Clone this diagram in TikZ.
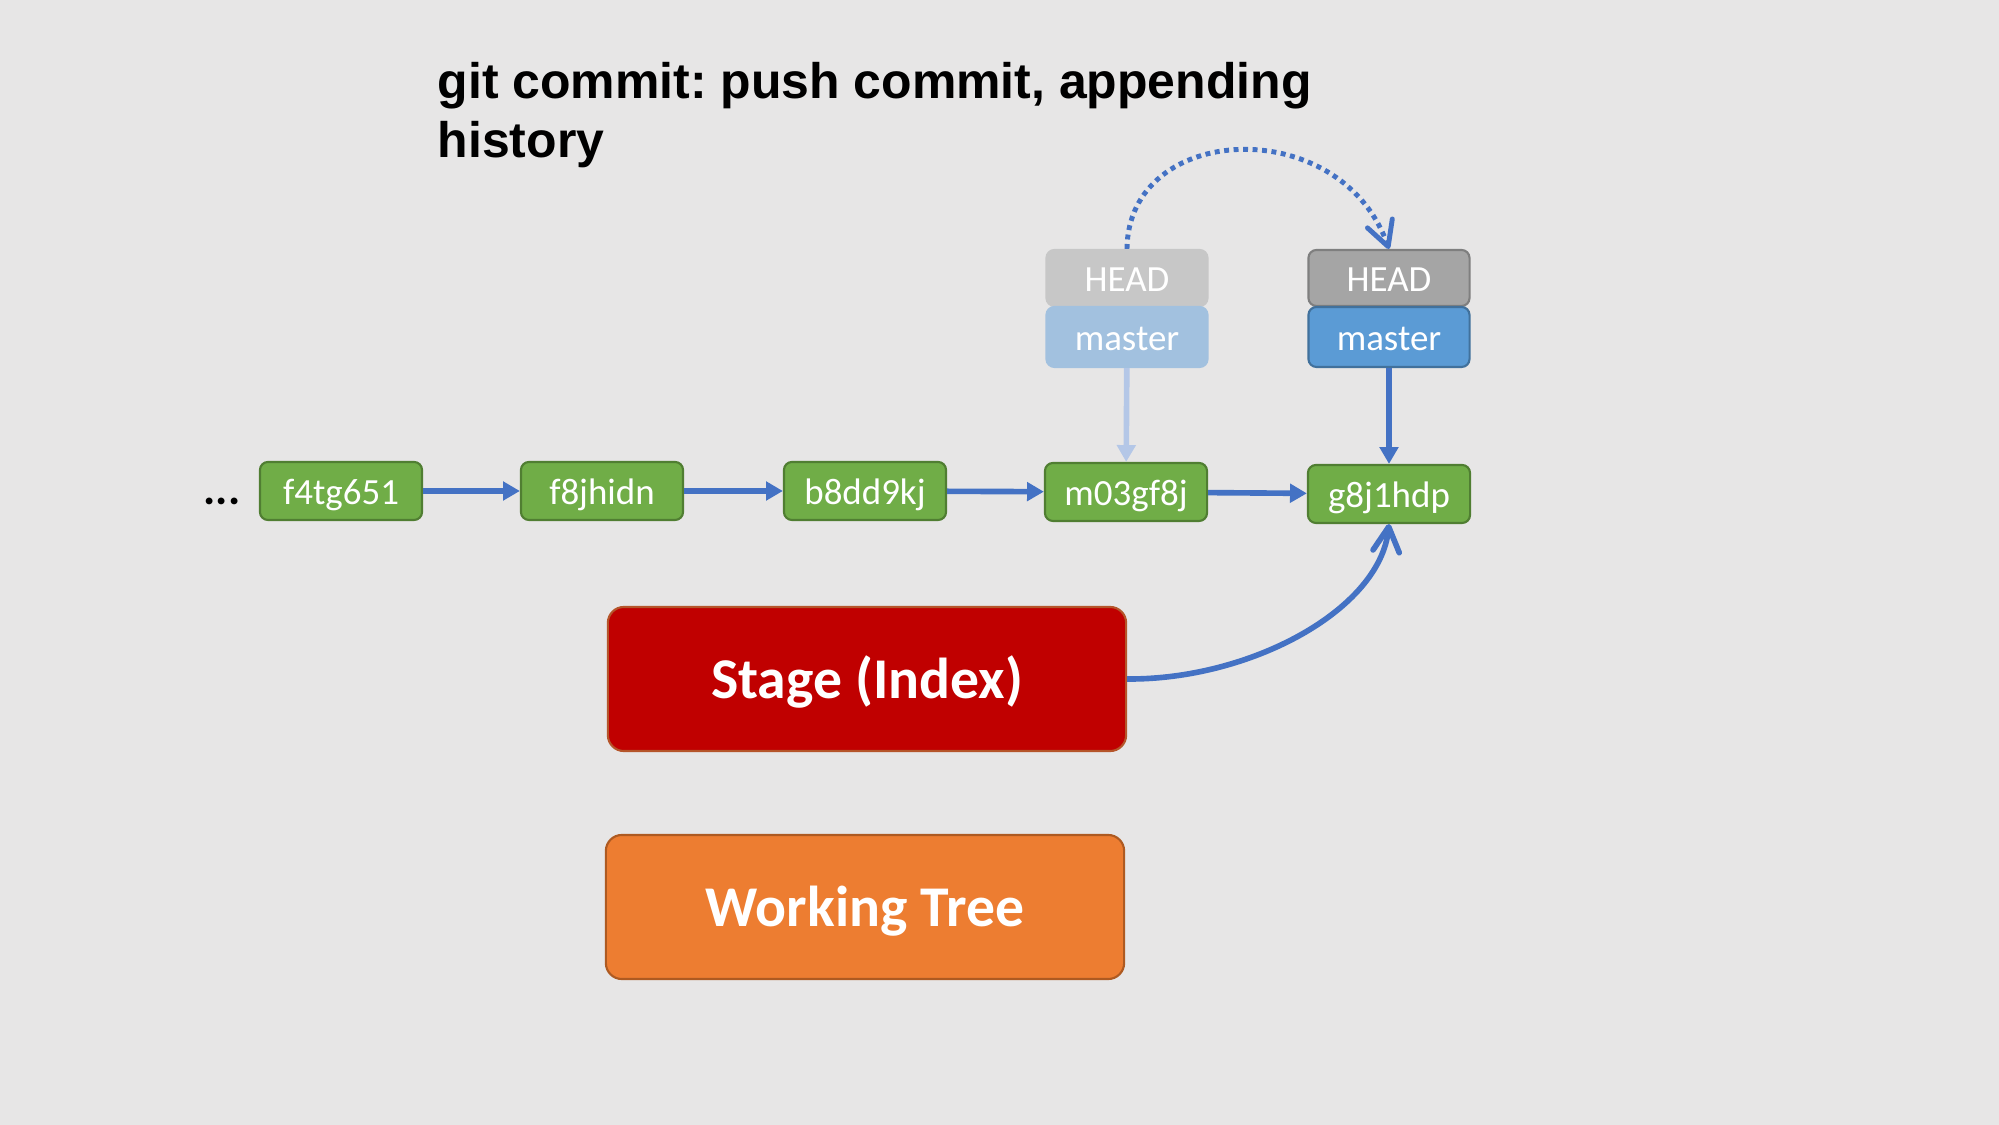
\documentclass[tikz,border=0pt]{standalone}
\usepackage{fontspec}
\setmainfont{Carlito}
\newfontfamily\titlefont{Liberation Sans}
\usetikzlibrary{arrows.meta}
\definecolor{bgcol}{HTML}{E7E6E6}
\definecolor{commitfill}{HTML}{70AD47}
\definecolor{commitline}{HTML}{507E32}
\definecolor{linkblue}{HTML}{4472C4}
\definecolor{linkpale}{HTML}{B4C7E7}
\definecolor{headold}{HTML}{C7C7C7}
\definecolor{masterold}{HTML}{A2C1DF}
\definecolor{headnew}{HTML}{A5A5A5}
\definecolor{headline}{HTML}{7F7F7F}
\definecolor{masternew}{HTML}{5B9BD5}
\definecolor{masterline}{HTML}{41719C}
\definecolor{stagefill}{HTML}{C00000}
\definecolor{stageline}{HTML}{B5552A}
\definecolor{treefill}{HTML}{ED7D31}
\definecolor{treeline}{HTML}{AE5A21}
\tikzset{
	commit/.style={draw=commitline, fill=commitfill, text=white, line width=0.6pt, rounded corners=0.08cm, minimum width=1.62cm, minimum height=0.58cm, inner sep=0pt, text height=8.5pt, text depth=1pt},
	ref/.style={text=white, line width=0.6pt, rounded corners=0.08cm, minimum width=1.61cm, inner sep=0pt, text height=8.5pt, text depth=1pt},
	area/.style={text=white, line width=0.6pt, rounded corners=0.16cm, minimum width=5.18cm, minimum height=1.44cm, inner sep=0pt, text height=13pt, text depth=2pt, font=\bfseries\fontsize{16.4}{19}\selectfont},
	link/.style={linkblue, line width=1.6pt},
	barb/.style={-{Straight Barb[length=7pt, width=7.5pt, line cap=round, line join=round]}}
}
\begin{document}
\begin{tikzpicture}[x=0.01cm, y=-0.01cm, font=\fontsize{10.5}{12}\selectfont, line join=round, >={Triangle[length=4.8pt, width=5.2pt]}]
	\def\yc{491} \def\yh{278} \def\ym{337}
	\fill[bgcol] (0,0) rectangle (1999,1125);
	\useasboundingbox (0,0) rectangle (1999,1125);
	\node[anchor=base west, align=left, inner sep=0pt, font=\titlefont\bfseries\frenchspacing\fontsize{14.2}{17}\selectfont] (title) at (437,158) {git commit: push commit, appending\\history};
	\node[anchor=base, inner sep=0pt, font=\bfseries\fontsize{13}{15}\selectfont] (dots) at (222,505) {...};
	% commits
	\node[commit] (c1) at (341,\yc) {f4tg651};
	\node[commit] (c2) at (602,\yc) {f8jhidn};
	\node[commit] (c3) at (865,\yc) {b8dd9kj};
	\node[commit] (c4) at (1126,492) {m03gf8j};
	\node[commit] (c5) at (1389,494) {g8j1hdp};
	\foreach \a/\b in {c1/c2, c2/c3, c3/c4, c4/c5}
		\draw[link, ->] (\a) -- (\b);
	% refs before and after
	\node[ref, fill=headold, draw=headold, minimum height=0.56cm] (oldhead) at (1127,\yh) {HEAD};
	\node[ref, fill=masterold, draw=masterold, minimum height=0.60cm] (oldmaster) at (1127,\ym) {master};
	\node[ref, fill=headnew, draw=headline, minimum height=0.56cm] (newhead) at (1389,\yh) {HEAD};
	\node[ref, fill=masternew, draw=masterline, minimum height=0.60cm] (newmaster) at (1389,\ym) {master};
	\draw[link, linkpale, ->] (oldmaster) -- (c4);
	\draw[link, ->] (newmaster) -- (c5);
	\draw[link, barb, line width=1.4pt, dash pattern=on 1.4pt off 1.3pt] (oldhead.north) .. controls (1128,122) and (1340,112) .. (newhead.north);
	% stage and working tree
	\node[area, fill=stagefill, draw=stageline] (stage) at (867,679) {Stage (Index)};
	\node[area, fill=treefill, draw=treeline] (tree) at (865,907) {Working Tree};
	\draw[link, barb] (stage.east) .. controls (1250,680) and (1380,610) .. (c5.south);
\end{tikzpicture}
\end{document}
